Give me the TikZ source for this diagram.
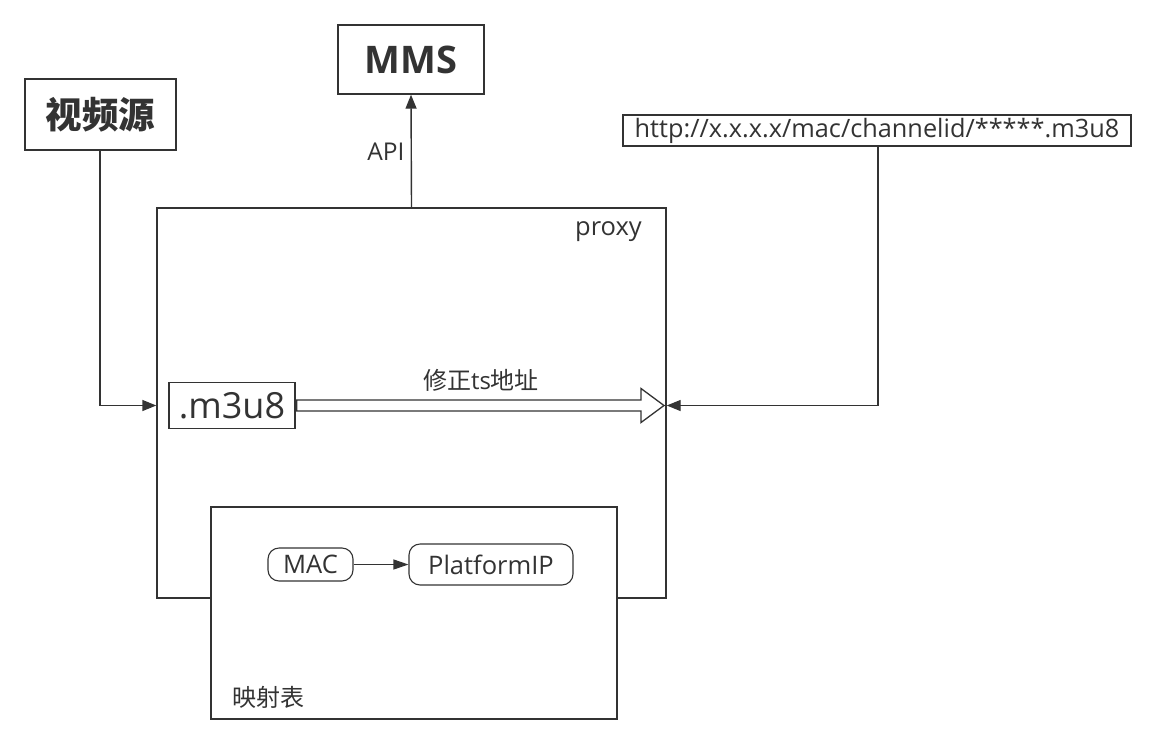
\documentclass[tikz,border=0pt]{standalone}
\usepackage{fontspec}
\setmainfont{Open Sans}
\newfontfamily\cjk{Noto Sans CJK SC}
\usetikzlibrary{arrows.meta,calc}
\definecolor{ink}{HTML}{333333}
\tikzset{
  box/.style={draw=ink, line width=1.4pt, fill=white, inner sep=0pt, text=ink},
  rbox/.style={box, rounded corners=11pt, line width=1.1pt},
  lbl/.style={inner sep=0pt, text=ink},
  conn/.style={draw=ink, line width=1.4pt, -{Triangle[length=14pt,width=11pt]}},
}
\newcommand{\fs}[1]{\fontsize{#1}{#1}\selectfont}
\begin{document}
\begin{tikzpicture}[x=1pt,y=-1pt]
\path[use as bounding box] (0,0) rectangle (1156,745);
% proxy
\node[box, minimum width=509pt, minimum height=390pt] (proxy) at (411.5,403) {};
\node[lbl, anchor=east, font=\fs{25.5}] (proxylbl) at (642,232) {proxy};
% mapping table
\node[box, minimum width=406pt, minimum height=212pt] (map) at (414,613) {};
\node[lbl, anchor=west, font=\cjk\fs{24}] (maplbl) at (232,697) {映射表};
\node[rbox, minimum width=85pt, minimum height=33pt, font=\fs{25.5}] (mac) at (310.5,564.5) {MAC};
\node[rbox, minimum width=164pt, minimum height=41pt, font=\fs{25.5}] (pip) at (491,564.5) {PlatformIP};
\draw[draw=ink, line width=1.1pt, -{Triangle[length=15pt,width=10pt]}] (mac) -- (pip);
% source
\node[box, minimum width=151pt, minimum height=71pt, font=\cjk\bfseries\fs{36.5}] (src) at (100.5,114.5) {视频源};
% MMS
\node[box, minimum width=146pt, minimum height=69pt, font=\bfseries\fs{38}] (mms) at (411,59.5) {MMS};
% URL
\node[box, minimum width=508pt, minimum height=31pt, font=\fs{25.3}] (url) at (877,130.5) {http://x.x.x.x/mac/channelid/*****.m3u8};
% m3u8
\node[box, minimum width=126pt, minimum height=46pt, font=\fs{36}] (m3u8) at (232,405.5) {.m3u8};
% connectors
\coordinate (srcbend) at (100,405.5);
\coordinate (urlbend) at (878,405.5);
\draw[conn] (src.south -| srcbend) -- (srcbend) -- (srcbend -| proxy.west);
\draw[conn] (url.south -| urlbend) -- (urlbend) -- (urlbend -| proxy.east);
\draw[conn] (proxy.north) -- (mms.south);
\node[lbl, font=\fs{24.5}] (api) at (386,152) {API};
% hollow arrow
\coordinate (tip) at (664,405.5);
\draw[draw=ink, line width=1.3pt, fill=white, line join=miter]
  ($(m3u8.east)+(1,-5.5)$) -- ($(tip)+(-23,-5.5)$) -- ($(tip)+(-23,-17)$) -- (tip)
  -- ($(tip)+(-23,17)$) -- ($(tip)+(-23,5.5)$) -- ($(m3u8.east)+(1,5.5)$) -- cycle;
\node[lbl, font=\fs{24}] (fix) at (481,380) {{\cjk 修正}ts{\cjk 地址}};
\end{tikzpicture}
\end{document}
